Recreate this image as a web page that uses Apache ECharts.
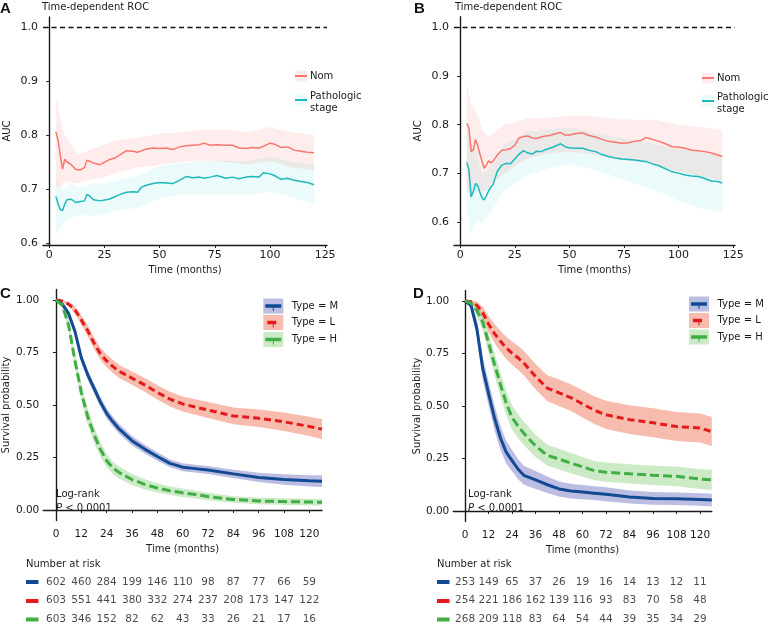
<!DOCTYPE html>
<html><head><meta charset="utf-8">
<script src="https://cdn.jsdelivr.net/npm/echarts@6/dist/echarts.min.js"></script>
<style>html,body{margin:0;padding:0;background:#fff}#c{width:771px;height:628px}</style>
</head><body><div id="c"></div>
<script>
// ---------- Panel A: time-dependent AUC ----------
const aucTimeA = [3,4,5,6,7,8,10,12,14,16,17,18,20,23,27,30,32,35,38,40,42,44,47,50,53,56,59,62,65,68,70,73,76,80,83,86,89,92,95,97,100,102,105,108,111,114,117,120];
const aucNomA = [0.806,0.79,0.762,0.737,0.755,0.75,0.745,0.736,0.735,0.74,0.753,0.752,0.748,0.745,0.754,0.758,0.763,0.771,0.770,0.768,0.771,0.774,0.776,0.775,0.776,0.773,0.778,0.780,0.781,0.782,0.785,0.781,0.782,0.781,0.781,0.776,0.775,0.777,0.776,0.779,0.785,0.783,0.777,0.778,0.772,0.77,0.768,0.767];
const aucPathA = [0.686,0.672,0.662,0.66,0.672,0.68,0.681,0.675,0.677,0.678,0.69,0.688,0.68,0.678,0.681,0.686,0.69,0.694,0.695,0.694,0.704,0.707,0.71,0.712,0.711,0.71,0.716,0.723,0.721,0.722,0.72,0.722,0.725,0.72,0.722,0.719,0.722,0.723,0.722,0.73,0.728,0.725,0.718,0.72,0.716,0.714,0.712,0.708];
const bandTimeA = [3,5,7,10,13,16,20,25,30,40,50,60,70,80,90,100,110,120];
const nomLoA = [0.707,0.70,0.715,0.712,0.71,0.715,0.718,0.722,0.73,0.74,0.745,0.75,0.753,0.75,0.745,0.752,0.74,0.735];
const nomHiA = [0.87,0.83,0.80,0.782,0.765,0.768,0.775,0.782,0.79,0.795,0.803,0.805,0.81,0.81,0.805,0.815,0.805,0.80];
const pathLoA = [0.615,0.628,0.64,0.648,0.65,0.652,0.65,0.652,0.66,0.665,0.683,0.69,0.69,0.69,0.69,0.695,0.685,0.672];
const pathHiA = [0.72,0.70,0.70,0.71,0.703,0.705,0.71,0.71,0.715,0.725,0.742,0.748,0.752,0.752,0.752,0.76,0.75,0.745];

// ---------- Panel B ----------
const aucTimeB = [3,4,5,6,7,8,9,10,11,12,13,14,15,17,19,21,23,25,27,29,31,33,35,37,39,41,43,46,48,50,53,56,59,62,65,68,71,74,77,80,83,85,88,91,94,97,100,103,106,109,112,115,118,120];
const aucNomB = [0.803,0.793,0.745,0.748,0.77,0.757,0.74,0.725,0.711,0.718,0.726,0.722,0.725,0.738,0.748,0.749,0.751,0.758,0.773,0.776,0.777,0.773,0.772,0.775,0.777,0.778,0.781,0.784,0.779,0.779,0.782,0.783,0.778,0.775,0.77,0.766,0.764,0.762,0.763,0.766,0.768,0.774,0.77,0.766,0.761,0.755,0.754,0.752,0.748,0.747,0.745,0.742,0.738,0.735];
const aucPathB = [0.723,0.708,0.653,0.663,0.68,0.675,0.662,0.65,0.646,0.655,0.665,0.672,0.677,0.705,0.717,0.721,0.72,0.73,0.74,0.747,0.742,0.74,0.746,0.745,0.749,0.752,0.755,0.761,0.755,0.753,0.752,0.752,0.748,0.745,0.739,0.735,0.732,0.73,0.729,0.728,0.726,0.725,0.72,0.716,0.71,0.704,0.701,0.697,0.695,0.694,0.69,0.685,0.684,0.681];
const bandTimeB = [3,5,7,10,13,16,20,25,30,40,50,60,70,80,90,100,110,120];
const nomLoB = [0.67,0.65,0.68,0.66,0.67,0.685,0.70,0.715,0.73,0.74,0.745,0.74,0.73,0.725,0.718,0.705,0.695,0.685];
const nomHiB = [0.885,0.84,0.83,0.79,0.775,0.785,0.80,0.805,0.812,0.815,0.818,0.818,0.812,0.81,0.81,0.80,0.795,0.79];
const pathLoB = [0.63,0.575,0.60,0.60,0.615,0.635,0.665,0.68,0.695,0.71,0.72,0.71,0.695,0.68,0.665,0.645,0.63,0.62];
const pathHiB = [0.80,0.76,0.75,0.70,0.71,0.725,0.76,0.77,0.785,0.79,0.795,0.785,0.775,0.77,0.76,0.75,0.745,0.74];

// ---------- Panels C / D: Kaplan-Meier ----------
const kmTime = [0,3,6,9,12,15,18,21,24,27,30,36,42,48,54,60,66,72,84,96,108,120,126];
const survMC = [1.0,0.98,0.935,0.85,0.725,0.645,0.58,0.515,0.46,0.42,0.385,0.33,0.29,0.255,0.222,0.204,0.197,0.19,0.172,0.155,0.145,0.139,0.137];
const loMC   = [1.0,0.972,0.92,0.83,0.703,0.622,0.556,0.491,0.436,0.396,0.362,0.308,0.269,0.235,0.203,0.185,0.178,0.171,0.152,0.133,0.12,0.112,0.109];
const hiMC   = [1.0,0.988,0.95,0.87,0.747,0.668,0.604,0.539,0.484,0.444,0.408,0.352,0.311,0.275,0.241,0.223,0.216,0.209,0.192,0.177,0.17,0.166,0.165];
const survLC = [1.0,0.995,0.98,0.953,0.905,0.855,0.795,0.745,0.71,0.683,0.66,0.628,0.596,0.56,0.528,0.505,0.49,0.476,0.448,0.437,0.42,0.398,0.385];
const loLC   = [1.0,0.99,0.97,0.936,0.882,0.829,0.767,0.716,0.68,0.652,0.629,0.596,0.563,0.526,0.493,0.469,0.453,0.438,0.408,0.395,0.376,0.352,0.337];
const hiLC   = [1.0,1.0,0.99,0.97,0.928,0.881,0.823,0.774,0.74,0.714,0.691,0.66,0.629,0.594,0.563,0.541,0.527,0.514,0.488,0.479,0.464,0.444,0.433];
const survHC = [1.0,0.975,0.88,0.71,0.56,0.445,0.36,0.29,0.235,0.2,0.178,0.145,0.122,0.105,0.092,0.082,0.074,0.064,0.05,0.043,0.04,0.038,0.037];
const loHC   = [1.0,0.962,0.854,0.674,0.521,0.406,0.322,0.255,0.203,0.17,0.149,0.119,0.098,0.083,0.071,0.062,0.055,0.046,0.034,0.027,0.024,0.022,0.021];
const hiHC   = [1.0,0.988,0.906,0.746,0.599,0.484,0.398,0.325,0.267,0.23,0.207,0.171,0.146,0.127,0.113,0.102,0.093,0.082,0.066,0.059,0.056,0.054,0.053];

const survMD = [1.0,0.98,0.87,0.68,0.56,0.445,0.35,0.28,0.24,0.2,0.17,0.148,0.125,0.105,0.095,0.09,0.085,0.08,0.067,0.06,0.058,0.055,0.052];
const loMD   = [1.0,0.963,0.83,0.625,0.502,0.386,0.293,0.226,0.189,0.152,0.125,0.105,0.086,0.069,0.06,0.056,0.052,0.047,0.036,0.03,0.028,0.025,0.022];
const hiMD   = [1.0,0.997,0.91,0.735,0.618,0.504,0.407,0.334,0.291,0.248,0.215,0.191,0.164,0.141,0.13,0.124,0.118,0.113,0.098,0.09,0.088,0.085,0.082];
const survLD = [1.0,0.997,0.98,0.945,0.89,0.845,0.81,0.777,0.752,0.73,0.705,0.64,0.585,0.563,0.54,0.51,0.48,0.458,0.435,0.42,0.402,0.395,0.378];
const loLD   = [1.0,0.99,0.962,0.917,0.852,0.8,0.76,0.724,0.697,0.673,0.647,0.58,0.523,0.5,0.476,0.445,0.414,0.391,0.367,0.351,0.333,0.326,0.31];
const hiLD   = [1.0,1.0,0.998,0.973,0.928,0.89,0.86,0.83,0.807,0.787,0.763,0.7,0.647,0.626,0.604,0.575,0.546,0.525,0.503,0.489,0.471,0.464,0.448];
const survHD = [1.0,0.99,0.955,0.9,0.8,0.7,0.605,0.515,0.445,0.405,0.37,0.31,0.265,0.247,0.228,0.21,0.192,0.185,0.177,0.17,0.165,0.152,0.148];
const loHD   = [1.0,0.978,0.93,0.863,0.752,0.646,0.548,0.457,0.387,0.348,0.314,0.257,0.215,0.198,0.18,0.163,0.146,0.139,0.131,0.124,0.118,0.105,0.1];
const hiHD   = [1.0,1.0,0.98,0.937,0.848,0.754,0.662,0.573,0.503,0.462,0.426,0.363,0.315,0.296,0.276,0.257,0.238,0.231,0.223,0.216,0.212,0.199,0.196];

// ---------- Number at risk ----------
const riskTime = [0,12,24,36,48,60,72,84,96,108,120];
const riskMC = [602,460,284,199,146,110,98,87,77,66,59];
const riskLC = [603,551,441,380,332,274,237,208,173,147,122];
const riskHC = [603,346,152,82,62,43,33,26,21,17,16];
const riskMD = [253,149,65,37,26,19,16,14,13,12,11];
const riskLD = [254,221,186,162,139,116,93,83,70,58,48];
const riskHD = [268,209,118,83,64,54,44,39,35,34,29];

// ---------- Ticks ----------
const xTicksAUC = [0,25,50,75,100,125];
const yTicksAUC = [0.6,0.7,0.8,0.9,1.0];
const xTicksKM = [0,12,24,36,48,60,72,84,96,108,120];
const yTicksKM = [0,0.25,0.5,0.75,1.0];
const groupNames = ['M','L','H'];

const FONT = 'DejaVu Sans';
const C_NOM = '#F8766D', C_PATH = '#1DB9BD';
const B_NOM = 'rgba(248,118,109,0.13)', B_PATH = 'rgba(0,191,196,0.08)';
const C_M = '#124A93', C_L = '#E41A1C', C_H = '#3FAE45';
const B_M = 'rgba(75,85,180,0.38)', B_L = 'rgba(236,95,62,0.42)', B_H = 'rgba(90,185,70,0.3)';

const chart = echarts.init(document.getElementById('c'), null, {renderer:'canvas'});

const grids = [
  {left:43, top:17, width:284, height:228},
  {left:454, top:16.7, width:281, height:228.3},
  {left:43.3, top:289.5, width:278.7, height:231},
  {left:453.3, top:290.5, width:258.5, height:231},
  {left:43.3, top:572.6, width:278.7, height:56.4},
  {left:453.3, top:572.6, width:258.5, height:56.4}
];

const axLine = {show:true, lineStyle:{color:'#1a1a1a', width:1.4}};
const axTick = (vals)=>({show:true, length:3, inside:false, customValues:vals, lineStyle:{color:'#1a1a1a', width:1}});
function xAx(gi, min, max, ticks, gap, margin, fs){
  return {type:'value', gridIndex:gi, min, max, axisLine:axLine, splitLine:{show:false},
    axisTick:axTick(ticks),
    axisLabel:{customValues:ticks, margin, fontFamily:FONT, fontSize:fs, color:'#1a1a1a', formatter:v=>String(v)},
    name:'Time (months)', nameLocation:'middle', nameGap:gap,
    nameTextStyle:{fontFamily:FONT, fontSize:10, color:'#1a1a1a'}};
}
function yAx(gi, min, max, ticks, dec, name, gap, margin, fs){
  return {type:'value', gridIndex:gi, min, max, axisLine:axLine, splitLine:{show:false},
    axisTick:axTick(ticks),
    axisLabel:{customValues:ticks, margin, fontFamily:FONT, fontSize:fs, color:'#1a1a1a', formatter:v=>v.toFixed(dec)},
    name, nameLocation:'middle', nameGap:gap, nameRotate:90,
    nameTextStyle:{fontFamily:FONT, fontSize:10, color:'#1a1a1a'}};
}

const xAxes = [
  xAx(0,-2.85,125.85,xTicksAUC,20,5,11),
  xAx(1,-2.85,125.85,xTicksAUC,20,5,11),
  xAx(2,-6,126,xTicksKM,24,8,10.5),
  xAx(3,-6,126,xTicksKM,24,8,10.5),
  {type:'value', gridIndex:4, min:-6, max:126, show:false},
  {type:'value', gridIndex:5, min:-6, max:126, show:false}
];
const yAxes = [
  yAx(0,0.5963,1.0185,yTicksAUC,1,'AUC',31,5,11),
  yAx(1,0.554,1.021,yTicksAUC,1,'AUC',31,5,11),
  yAx(2,-0.05,1.05,yTicksKM,2,'Survival probability',32,4,10.5),
  yAx(3,-0.05,1.05,yTicksKM,2,'Survival probability',31,4,10.5),
  {type:'category', gridIndex:4, data:groupNames, inverse:true, show:false},
  {type:'category', gridIndex:5, data:groupNames, inverse:true, show:false}
];

function band(ai, times, lo, hi, fill){
  return {type:'custom', xAxisIndex:ai, yAxisIndex:ai, silent:true, clip:true, z:1,
    data: times.map((t,i)=>[t, lo[i], hi[i]]),
    renderItem:(params, api)=>{
      if (params.dataIndex !== 0) return null;
      const pts = [];
      for (let i=0;i<times.length;i++) pts.push(api.coord([times[i], hi[i]]));
      for (let i=times.length-1;i>=0;i--) pts.push(api.coord([times[i], lo[i]]));
      return {type:'polygon', shape:{points:pts}, style:{fill, stroke:null}};
    }};
}
function line(ai, times, vals, color, width, dash, extra){
  return Object.assign({type:'line', xAxisIndex:ai, yAxisIndex:ai, showSymbol:false, silent:true, z:3,
    data: times.map((t,i)=>[t, vals[i]]),
    lineStyle:{color, width, type:dash||'solid', cap:'butt'}, clip:true}, extra||{});
}
const refLine = {markLine:{silent:true, symbol:'none', label:{show:false},
  lineStyle:{color:'#111', width:1.4, type:[5,3.5]}, data:[{yAxis:1.0}]}};

function risk(ai, vals, grp){
  return {type:'scatter', xAxisIndex:ai, yAxisIndex:ai, symbolSize:0, silent:true,
    data: riskTime.map((t,i)=>[t, grp, vals[i]]),
    label:{show:true, position:'inside', formatter:p=>String(p.value[2]), fontFamily:FONT, fontSize:10.5, color:'#1a1a1a'}};
}

const series = [
  band(0, bandTimeA, nomLoA, nomHiA, B_NOM),
  band(0, bandTimeA, pathLoA, pathHiA, B_PATH),
  line(0, aucTimeA, aucNomA, C_NOM, 1.5, null, refLine),
  line(0, aucTimeA, aucPathA, C_PATH, 1.5),
  band(1, bandTimeB, nomLoB, nomHiB, B_NOM),
  band(1, bandTimeB, pathLoB, pathHiB, B_PATH),
  line(1, aucTimeB, aucNomB, C_NOM, 1.5, null, refLine),
  line(1, aucTimeB, aucPathB, C_PATH, 1.5),

  band(2, kmTime, loLC, hiLC, B_L),
  band(2, kmTime, loMC, hiMC, B_M),
  band(2, kmTime, loHC, hiHC, B_H),
  line(2, kmTime, survLC, C_L, 3, [7,4]),
  line(2, kmTime, survMC, C_M, 3),
  line(2, kmTime, survHC, C_H, 3, [9,4]),

  band(3, kmTime, loLD, hiLD, B_L),
  band(3, kmTime, loMD, hiMD, B_M),
  band(3, kmTime, loHD, hiHD, B_H),
  line(3, kmTime, survLD, C_L, 3, [7,4]),
  line(3, kmTime, survMD, C_M, 3),
  line(3, kmTime, survHD, C_H, 3, [9,4]),

  risk(4, riskMC, 'M'), risk(4, riskLC, 'L'), risk(4, riskHC, 'H'),
  risk(5, riskMD, 'M'), risk(5, riskLD, 'L'), risk(5, riskHD, 'H')
];

function txt(x, y, text, opt){
  return {type:'text', x, y, silent:true, style:Object.assign({text, fontFamily:FONT, fontSize:10, fill:'#1a1a1a', textVerticalAlign:'middle'}, opt||{})};
}
function letter(x, y, t){ return txt(x, y, t, {fontFamily:'Liberation Sans', fontWeight:'bold', fontSize:15, fill:'#111'}); }
function aucLegend(x, y1, y2){
  return [
    {type:'rect', shape:{x, y:y1-5.5, width:12, height:11}, style:{fill:B_NOM}},
    {type:'line', shape:{x1:x, y1:y1, x2:x+12, y2:y1}, style:{stroke:C_NOM, lineWidth:2}},
    txt(x+15, y1+0.5, 'Nom'),
    {type:'rect', shape:{x, y:y2-6, width:12, height:12}, style:{fill:B_PATH}},
    {type:'line', shape:{x1:x, y1:y2, x2:x+12, y2:y2}, style:{stroke:C_PATH, lineWidth:2}},
    txt(x+15, y2-3.5, 'Pathologic'),
    txt(x+15, y2+8.5, 'stage')
  ];
}
function kmLegend(x, ys){
  const cols = [[C_M,B_M,2,18,'Type = M'],[C_L,B_L,4,13,'Type = L'],[C_H,B_H,2,18,'Type = H']];
  const out = [];
  cols.forEach((c,i)=>{
    const y = ys[i];
    out.push({type:'rect', shape:{x, y:y-7.5, width:20, height:15}, style:{fill:c[1]}});
    out.push({type:'line', shape:{x1:x+c[2], y1:y, x2:x+c[3], y2:y}, style:{stroke:c[0], lineWidth:3.5}});
    out.push({type:'line', shape:{x1:x+10, y1:y, x2:x+10, y2:y+5}, style:{stroke:c[0], lineWidth:1}});
    out.push(txt(x+28.5, y, c[4]));
  });
  return out;
}
function riskHeader(x, ys){
  const cols = [C_M, C_L, C_H];
  const out = [txt(x, 564.5, 'Number at risk')];
  cols.forEach((c,i)=>out.push({type:'rect', shape:{x, y:ys[i]-2, width:12.5, height:4}, style:{fill:c}}));
  return out;
}
function logrank(x){
  return [txt(x, 494, 'Log-rank'),
    {type:'text', x, y:508.5, silent:true, style:{text:'{i|P} < 0.0001', fontFamily:FONT, fontSize:10, fill:'#1a1a1a', textVerticalAlign:'middle',
      rich:{i:{fontStyle:'italic', fontFamily:FONT, fontSize:10, fill:'#1a1a1a'}}}}];
}

const graphic = [
  letter(0, 9, 'A'), letter(414, 9, 'B'), letter(0, 294, 'C'), letter(413, 294, 'D'),
  txt(42, 7, 'Time-dependent ROC'), txt(455, 7, 'Time-dependent ROC'),
  ...aucLegend(295, 76, 100),
  ...aucLegend(702, 78, 101),
  ...kmLegend(263.3, [306, 322.5, 339.5]),
  ...kmLegend(689, [304, 320.5, 337]),
  ...logrank(56), ...logrank(468),
  ...riskHeader(26, [582, 601, 619.5]),
  ...riskHeader(437, [582, 601, 619.5])
];

chart.setOption({
  animation:false,
  backgroundColor:'#fff',
  grid:grids, xAxis:xAxes, yAxis:yAxes, series, graphic
});
</script></body></html>
